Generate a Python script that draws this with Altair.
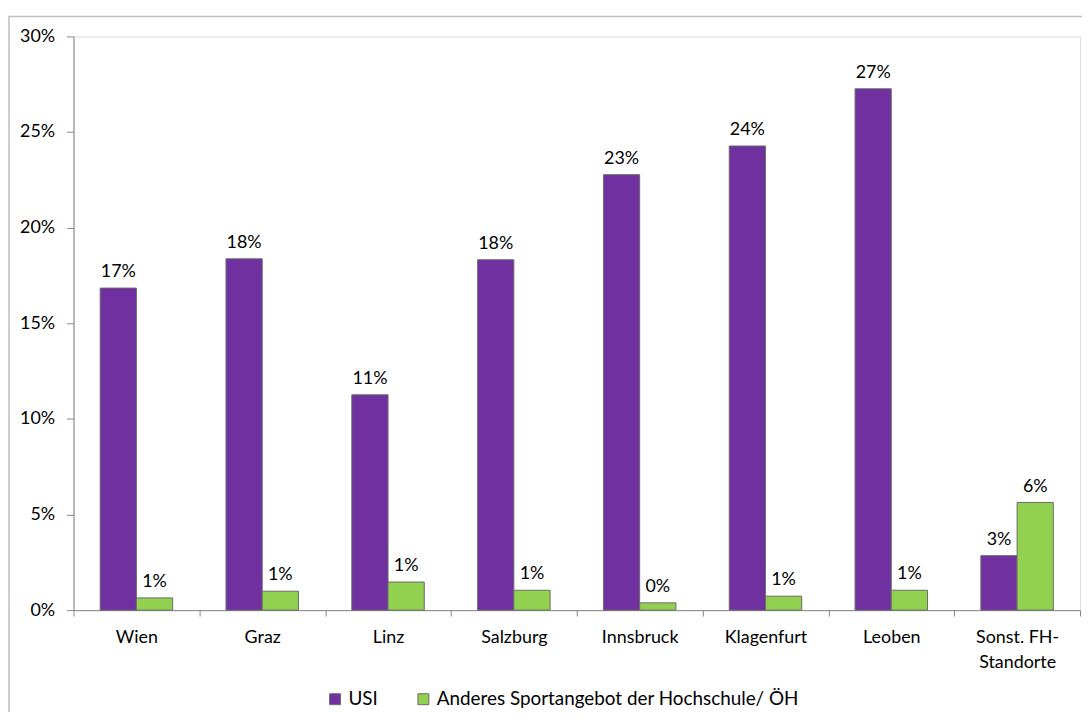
import altair as alt
import pandas as pd

categories = ["Wien", "Graz", "Linz", "Salzburg", "Innsbruck", "Klagenfurt", "Leoben", "Sonst. FH-Standorte"]
series = ["USI", "Anderes Sportangebot der Hochschule/ ÖH"]
usi = [0.1684, 0.1837, 0.1126, 0.1832, 0.2277, 0.2427, 0.2726, 0.0285]
anderes = [0.0064, 0.0099, 0.0147, 0.0104, 0.0038, 0.0073, 0.0104, 0.0563]
colors = ["#7030A0", "#92D050"]

rows = []
for i, c in enumerate(categories):
    rows.append({"Standort": c, "Serie": series[0], "Wert": usi[i]})
    rows.append({"Standort": c, "Serie": series[1], "Wert": anderes[i]})
df = pd.DataFrame(rows)

FONT = "Lato"
FS = 18
AXIS_GRAY = "#868686"

x_enc = alt.X(
    "Standort:N",
    sort=categories,
    scale=alt.Scale(paddingInner=0, paddingOuter=0),
    axis=alt.Axis(
        title=None,
        labelAngle=0,
        tickBand="extent",
        labelExpr="datum.label == 'Sonst. FH-Standorte' ? ['Sonst. FH-', 'Standorte'] : datum.label",
        labelFont=FONT,
        labelFontSize=FS,
        labelColor="#000000",
        labelPadding=13,
        labelLineHeight=25,
        tickSize=6,
        tickColor=AXIS_GRAY,
        domainColor=AXIS_GRAY,
        grid=False,
    ),
)
xoff_enc = alt.XOffset("Serie:N", sort=series, scale=alt.Scale(paddingInner=0, paddingOuter=0.736))
y_enc = alt.Y(
    "Wert:Q",
    scale=alt.Scale(domain=[0, 0.30], nice=False),
    axis=alt.Axis(
        title=None,
        values=[0, 0.05, 0.10, 0.15, 0.20, 0.25, 0.30],
        format=".0%",
        labelFont=FONT,
        labelFontSize=FS,
        labelColor="#000000",
        labelPadding=12,
        tickSize=7,
        tickColor=AXIS_GRAY,
        domainColor=AXIS_GRAY,
        grid=False,
    ),
)

bars = alt.Chart(df).mark_bar(stroke="#6b6b6b", strokeWidth=1).encode(
    x=x_enc,
    xOffset=xoff_enc,
    y=y_enc,
    color=alt.Color(
        "Serie:N",
        sort=series,
        scale=alt.Scale(domain=series, range=colors),
        legend=alt.Legend(
            title=None,
            orient="none",
            legendX=254,
            legendY=658,
            direction="horizontal",
            symbolType="square",
            symbolSize=121,
            symbolStrokeColor="#6b6b6b",
            symbolStrokeWidth=1,
            labelFont=FONT,
            labelFontSize=19,
            labelColor="#000000",
            labelOffset=4,
            columnPadding=36,
            labelLimit=500,
        ),
    ),
)

labels = alt.Chart(df).mark_text(
    baseline="alphabetic", align="center", dy=-11, font=FONT, fontSize=FS, color="#000000"
).encode(
    x=alt.X("Standort:N", sort=categories),
    xOffset=alt.XOffset("Serie:N", sort=series),
    y="Wert:Q",
    text=alt.Text("Wert:Q", format=".0%"),
)

border = alt.Chart(pd.DataFrame({"a": [0]})).mark_rect(
    fill=None, stroke="#bfbfbf", strokeWidth=1.5
).encode(
    x=alt.value(-65), x2=alt.value(1040), y=alt.value(-20), y2=alt.value(720)
)

chart = alt.layer(border, bars, labels).properties(
    width=1014,
    height=578,
    padding={"left": 66, "top": 26, "right": 2, "bottom": 100},
    autosize=alt.AutoSizeParams(type="none"),
).configure_view(stroke=None).configure(background="white")

chart.save("out.html", embed_options={"renderer": "svg", "actions": False})
